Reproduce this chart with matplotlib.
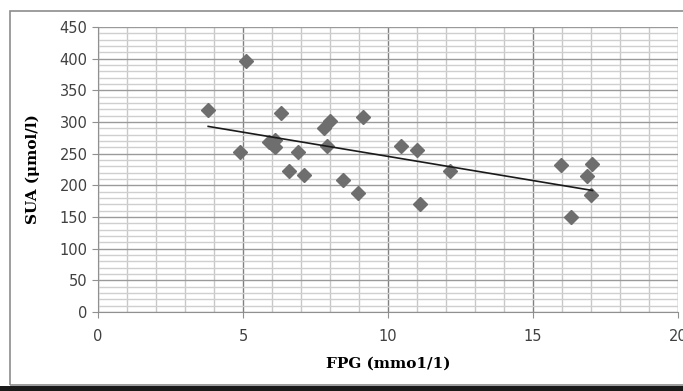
import numpy as np
import matplotlib.pyplot as plt
from matplotlib.patches import Rectangle
from matplotlib.ticker import MultipleLocator

# FPG (mmol/l) vs SUA (umol/l)
fpg = [3.8, 5.1, 4.9, 6.3, 5.9, 6.1, 6.1, 6.0, 6.6, 6.9, 7.1, 7.8, 8.0, 7.9,
       8.45, 8.97, 9.15, 10.45, 11.0, 11.1, 12.15, 15.95, 16.3, 16.85, 17.05, 17.0]
sua = [319, 396, 252, 314, 268, 272, 260, 265, 222, 252, 216, 290, 302, 262,
       208, 188, 308, 262, 256, 170, 222, 232, 150, 215, 233, 185]

x_ticks = [0, 5, 10, 15, 20]
y_ticks = list(range(0, 451, 50))

fig = plt.figure(figsize=(6.83, 3.91), dpi=100)
ax = fig.add_axes([98/683, 1-312/391, 580/683, 285/391])

# outer chart border and dark strip at bottom
fig.patches.append(Rectangle((10/683, 1-385/391), 1.0, 374/391, transform=fig.transFigure,
                             fill=False, edgecolor='#8c8c8c', lw=1.2))
fig.patches.append(Rectangle((0, 0), 1, 5/391, transform=fig.transFigure,
                             facecolor='#1a1a1a', edgecolor='none'))

ax.set_xlim(0, 20)
ax.set_ylim(0, 450)
ax.set_xticks(x_ticks)
ax.set_yticks(y_ticks)
ax.xaxis.set_minor_locator(MultipleLocator(1))
ax.yaxis.set_minor_locator(MultipleLocator(10))
ax.grid(which='major', axis='x', color='#808080', lw=1.0)
ax.grid(which='minor', axis='x', color='#c8c8c8', lw=1.0)
ax.grid(which='major', axis='y', color='#9a9a9a', lw=1.0)
ax.grid(which='minor', axis='y', color='#cfcfcf', lw=1.0)
ax.set_axisbelow(True)

for s in ['top', 'right']:
    ax.spines[s].set_visible(False)
ax.spines['left'].set_color('#909090')
ax.spines['bottom'].set_color('#909090')
ax.tick_params(which='major', length=4, color='#909090', labelsize=10.5, labelcolor='#404040')
ax.tick_params(which='minor', length=0)
ax.tick_params(axis='x', pad=8)

ax.plot(fpg, sua, 'D', color='#6e6e6e', ms=7.5, mec='#6e6e6e')

# linear trend line across the data range
k, b = np.polyfit(fpg, sua, 1)
xs = np.array([min(fpg), max(fpg)])
ax.plot(xs, k*xs + b, color='#1a1a1a', lw=1.2)

ax.set_xlabel('FPG (mmo1/1)', fontsize=11, fontweight='bold', family='DejaVu Serif', labelpad=9)
ax.set_ylabel('SUA (μmol/l)', fontsize=11, fontweight='bold', family='DejaVu Serif', labelpad=14)

fig.savefig('out.png', dpi=100)
